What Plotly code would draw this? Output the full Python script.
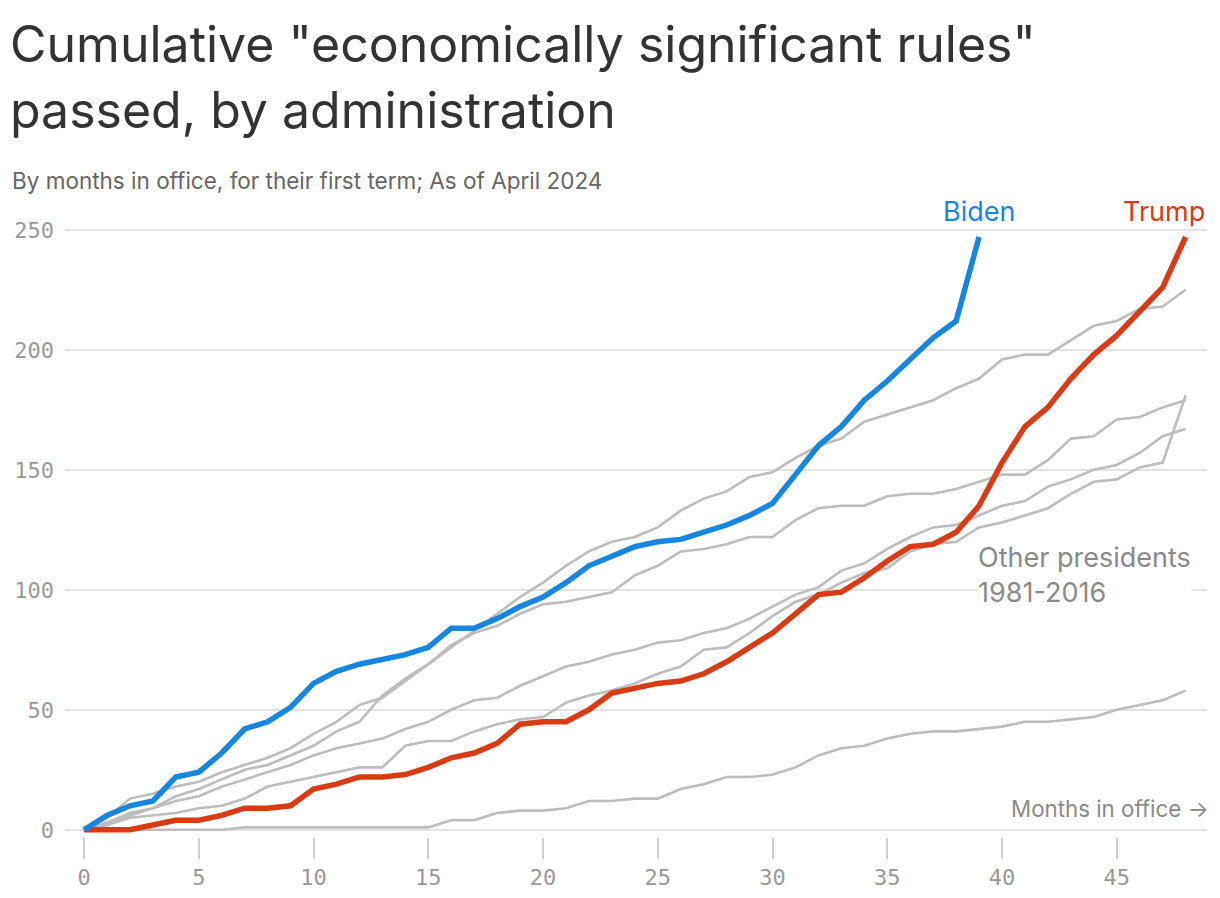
import plotly.graph_objects as go

# ---------------- data ----------------
months = list(range(49))
biden = [0, 6, 10, 12, 22, 24, 32, 42, 45, 51, 61, 66, 69, 71, 73, 76, 84, 84, 88, 93,
         97, 103, 110, 114, 118, 120, 121, 124, 127, 131, 136, 148, 160, 168, 179, 187,
         196, 205, 212, 247]
trump = [0, 0, 0, 2, 4, 4, 6, 9, 9, 10, 17, 19, 22, 22, 23, 26, 30, 32, 36, 44,
         45, 45, 50, 57, 59, 61, 62, 65, 70, 76, 82, 90, 98, 99, 105, 112, 118, 119,
         124, 135, 153, 168, 176, 188, 198, 206, 216, 226, 247]
other_a = [0, 5, 13, 15, 18, 20, 24, 27, 30, 34, 40, 45, 52, 55, 62, 69, 76, 83, 90, 97,
           103, 110, 116, 120, 122, 126, 133, 138, 141, 147, 149, 155, 160, 163, 170,
           173, 176, 179, 184, 188, 196, 198, 198, 204, 210, 212, 217, 218, 225]
other_b = [0, 3, 7, 9, 14, 17, 21, 25, 27, 31, 35, 41, 45, 56, 63, 69, 77, 82, 85, 90,
           94, 95, 97, 99, 106, 110, 116, 117, 119, 122, 122, 129, 134, 135, 135, 139,
           140, 140, 142, 145, 148, 148, 154, 163, 164, 171, 172, 176, 179]
other_c = [0, 2, 6, 9, 12, 14, 18, 21, 24, 27, 31, 34, 36, 38, 42, 45, 50, 54, 55, 60,
           64, 68, 70, 73, 75, 78, 79, 82, 84, 88, 93, 98, 101, 108, 111, 117, 122, 126,
           127, 131, 135, 137, 143, 146, 150, 152, 157, 164, 167]
other_d = [0, 2, 5, 6, 7, 9, 10, 13, 18, 20, 22, 24, 26, 26, 35, 37, 37, 41, 44, 46,
           47, 53, 56, 58, 61, 65, 68, 75, 76, 82, 89, 95, 98, 103, 107, 109, 116, 119,
           120, 126, 128, 131, 134, 140, 145, 146, 151, 153, 181]
other_e = [0, 0, 0, 0, 0, 0, 0, 1, 1, 1, 1, 1, 1, 1, 1, 1, 4, 4, 7, 8,
           8, 9, 12, 12, 13, 13, 17, 19, 22, 22, 23, 26, 31, 34, 35, 38, 40, 41, 41,
           42, 43, 45, 45, 46, 47, 50, 52, 54, 58]
others = [other_a, other_b, other_c, other_d, other_e]

x_ticks = [0, 5, 10, 15, 20, 25, 30, 35, 40, 45]
y_ticks = [0, 50, 100, 150, 200, 250]

title_lines = ['Cumulative "economically significant rules"', 'passed, by administration']
subtitle = "By months in office, for their first term; As of April 2024"

# ---------------- style ----------------
BLUE = "#1786E0"
RED = "#D93B14"
GRAY = "#BDBDBD"
OFF = 8                      # page body margin of the browser
W, H = 1220 - OFF, 898 - OFF
# plot area in screenshot pixels
L, R, T, B = 65, 1207, 225.2, 837.2
MONO = "DejaVu Sans Mono"
SANS = "Inter"


def px(xp):
    return (xp - L) / (R - L)


def py(yp):
    return (B - yp) / (B - T)


fig = go.Figure()
for ys in others:
    fig.add_trace(go.Scatter(x=months[:len(ys)], y=ys, mode="lines",
                             line=dict(color=GRAY, width=2.6), hoverinfo="skip"))
fig.add_trace(go.Scatter(x=months[:len(trump)], y=trump, mode="lines",
                         line=dict(color=RED, width=5.5)))
fig.add_trace(go.Scatter(x=months[:len(biden)], y=biden, mode="lines",
                         line=dict(color=BLUE, width=5.5)))

ann = []
ann.append(dict(text=title_lines[0], x=px(8), y=py(44), xref="paper", yref="paper",
                xanchor="left", yanchor="middle", showarrow=False,
                font=dict(family=SANS, size=50, color="#333333")))
ann.append(dict(text=title_lines[1], x=px(8), y=py(110), xref="paper", yref="paper",
                xanchor="left", yanchor="middle", showarrow=False,
                font=dict(family=SANS, size=50, color="#333333")))
ann.append(dict(text=subtitle, x=px(9.5), y=py(181), xref="paper", yref="paper",
                xanchor="left", yanchor="middle", showarrow=False,
                font=dict(family=SANS, size=22.5, color="#666666")))
ann.append(dict(text="Biden", x=px(979), y=py(212), xref="paper", yref="paper",
                xanchor="center", yanchor="middle", showarrow=False,
                font=dict(family=SANS, size=27, color=BLUE)))
ann.append(dict(text="Trump", x=px(1207), y=py(212), xref="paper", yref="paper",
                xanchor="right", yanchor="middle", showarrow=False,
                font=dict(family=SANS, size=27, color=RED)))
ann.append(dict(text="Other presidents<br>1981-2016", x=px(977), y=py(575),
                xref="paper", yref="paper", xanchor="left", yanchor="middle",
                align="left", showarrow=False, bgcolor="white", borderpad=0,
                font=dict(family=SANS, size=27, color="#8a8a8a")))
ann.append(dict(text="Months in office →", x=px(1211), y=py(809), xref="paper",
                yref="paper", xanchor="right", yanchor="middle", showarrow=False,
                font=dict(family=SANS, size=22.3, color="#8a8a8a")))

fig.update_layout(
    width=W, height=H,
    margin=dict(l=L - OFF, r=W - (R - OFF), t=T - OFF, b=H - (B - OFF), pad=0,
                autoexpand=False),
    paper_bgcolor="white", plot_bgcolor="white",
    showlegend=False,
    annotations=ann,
    xaxis=dict(range=[(L - 84) / 22.95, (R - 84) / 22.95], tickvals=x_ticks,
               showgrid=False, zeroline=False, showline=False, automargin=False,
               ticks="outside", ticklen=21, tickwidth=2, tickcolor="#cfcfcf",
               tickfont=dict(family=MONO, size=22, color="#999999"),
               fixedrange=True),
    yaxis=dict(range=[-3, 252], tickvals=y_ticks, showgrid=True, automargin=False,
               gridcolor="#e3e3e3", gridwidth=1.5, zeroline=False, showline=False,
               ticks="", ticklabelstandoff=10,
               tickfont=dict(family=MONO, size=22, color="#999999"),
               fixedrange=True),
)

fig.write_html("out.html")
